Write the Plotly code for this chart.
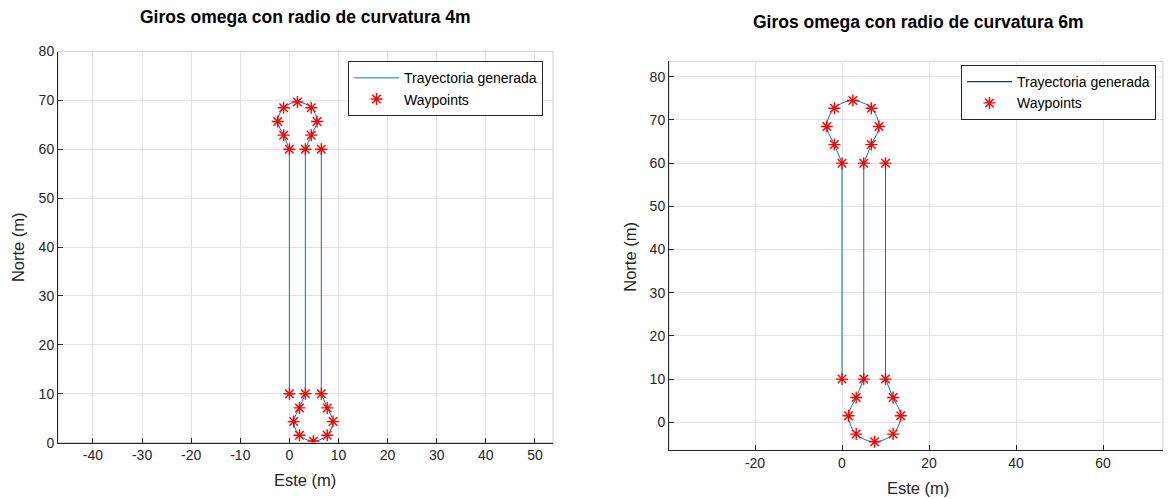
import plotly.graph_objects as go

W, H = 1168, 499

# ---- data ----
# Left: omega turns, radius 4 m
wp4_x = [0, 0, -1.17, -2.38, -1.17, 1.63, 4.45, 5.63, 4.45, 3.25,
         3.25, 2.05, 0.88, 2.05, 4.88, 7.70, 8.88, 7.70, 6.5, 6.5]
wp4_y = [10, 60, 62.9, 65.7, 68.5, 69.7, 68.5, 65.7, 62.9, 60,
         10, 7.1, 4.3, 1.5, 0.3, 1.5, 4.3, 7.1, 10, 60]
# Right: omega turns, radius 6 m
wp6_x = [0, 0, -1.74, -3.5, -1.74, 2.5, 6.74, 8.5, 6.74, 5,
         5, 3.26, 1.5, 3.26, 7.5, 11.74, 13.5, 11.74, 10, 10]
wp6_y = [10, 60, 64.3, 68.5, 72.7, 74.5, 72.7, 68.5, 64.3, 60,
         10, 5.74, 1.5, -2.74, -4.5, -2.74, 1.5, 5.74, 10, 60]

# index ranges of the path: straight legs and turning loops
straight_legs = [(0, 2), (9, 11), (18, 20)]
turn_loops = [(1, 10), (10, 19)]

title4 = "Giros omega con radio de curvatura 4m"
title6 = "Giros omega con radio de curvatura 6m"
xlab = "Este (m)"
ylab = "Norte (m)"
name_traj = "Trayectoria generada"
name_wp = "Waypoints"

x4_ticks = [-40, -30, -20, -10, 0, 10, 20, 30, 40, 50]
y4_ticks = [0, 10, 20, 30, 40, 50, 60, 70, 80]
x6_ticks = [-20, 0, 20, 40, 60]
y6_ticks = [0, 10, 20, 30, 40, 50, 60, 70, 80]

# ---- styling ----
PATH_COLOR = "#0072BD"
FONT = "Liberation Sans, Arial, sans-serif"
AX_COLOR = "#262626"
GRID = "#E3E3E3"


def px(xp):
    return xp / W


def py(yp):
    return 1 - yp / H


fig = go.Figure()


def add_path(xs, ys, xa, ya):
    for a, b in straight_legs:
        fig.add_trace(go.Scatter(x=xs[a:b], y=ys[a:b], mode="lines",
                                 line=dict(color=PATH_COLOR, width=1),
                                 showlegend=False, xaxis=xa, yaxis=ya, hoverinfo="skip"))
    for a, b in turn_loops:
        fig.add_trace(go.Scatter(x=xs[a:b], y=ys[a:b], mode="lines",
                                 line=dict(color=PATH_COLOR, width=1, shape="spline"),
                                 showlegend=False, xaxis=xa, yaxis=ya, hoverinfo="skip"))


marker_style = dict(symbol="asterisk-open", size=10, color="#FF0000",
                    line=dict(color="#FF0000", width=1.4))

# left subplot
add_path(wp4_x, wp4_y, "x", "y")
fig.add_trace(go.Scatter(x=[None], y=[None], mode="lines", line=dict(color="#5AA6DA", width=1.5),
                         name=name_traj, legend="legend", xaxis="x", yaxis="y"))
fig.add_trace(go.Scatter(x=wp4_x, y=wp4_y, mode="markers", name=name_wp, legend="legend",
                         marker=marker_style, xaxis="x", yaxis="y"))

# right subplot
add_path(wp6_x, wp6_y, "x2", "y2")
fig.add_trace(go.Scatter(x=[None], y=[None], mode="lines", line=dict(color="#123E63", width=1.2),
                         name=name_traj, legend="legend2", xaxis="x2", yaxis="y2"))
fig.add_trace(go.Scatter(x=wp6_x, y=wp6_y, mode="markers", name=name_wp, legend="legend2",
                         marker=marker_style, xaxis="x2", yaxis="y2"))

axis_common = dict(showgrid=True, gridcolor=GRID, gridwidth=1, zeroline=False,
                   showline=True, linecolor=AX_COLOR, linewidth=1, mirror=False,
                   ticks="inside", ticklen=5, tickcolor=AX_COLOR, tickwidth=1,
                   tickfont=dict(family=FONT, size=14, color=AX_COLOR),
                   tickmode="array")


def labels(vals):
    return [str(v) for v in vals]


legend_common = dict(xanchor="right", yanchor="top",
                     bgcolor="white", bordercolor="#262626", borderwidth=1,
                     font=dict(family=FONT, size=14, color="#000000"),
                     tracegroupgap=0, itemwidth=45)

fig.update_layout(
    width=W, height=H,
    margin=dict(l=0, r=0, t=0, b=0),
    paper_bgcolor="white", plot_bgcolor="white",
    xaxis=dict(domain=[px(58), px(553)], range=[-47.12, 53.68], tickvals=x4_ticks,
               ticktext=labels(x4_ticks), anchor="y", **axis_common),
    yaxis=dict(domain=[py(449), py(45)], range=[0, 80], tickvals=y4_ticks,
               ticktext=labels(y4_ticks), anchor="x", **axis_common),
    xaxis2=dict(domain=[px(669), px(1163)], range=[-39.77, 73.79], tickvals=x6_ticks,
                ticktext=labels(x6_ticks), anchor="y2", **axis_common),
    yaxis2=dict(domain=[py(457), py(55)], range=[-6.5, 83.6], tickvals=y6_ticks,
                ticktext=labels(y6_ticks), anchor="x2", **axis_common),
    legend=dict(x=px(543), y=py(55), **legend_common),
    legend2=dict(x=px(1156), y=py(59), **legend_common),
    showlegend=True,
)

# light frame on top/right (MATLAB box)
for xr, yr in (("x domain", "y domain"), ("x2 domain", "y2 domain")):
    fig.add_shape(type="rect", xref=xr, yref=yr, x0=0, x1=1, y0=0, y1=1,
                  line=dict(color="#D0D0D0", width=1), layer="below")

texts = [
    (title4, 305, 9, 17.5, True, 0),
    (title6, 918, 14, 17.5, True, 0),
    (xlab, 305, 488, 16.5, False, 0),
    (xlab, 918, 496, 16.5, False, 0),
    (ylab, 18, 247, 16.5, False, -90),
    (ylab, 630, 257, 16.5, False, -90),
]
for t, xp, yp, fs, bold, ang in texts:
    fig.add_annotation(text=("<b>%s</b>" % t) if bold else t, xref="paper", yref="paper",
                       x=px(xp), y=py(yp), xanchor="center", yanchor="middle",
                       showarrow=False, textangle=ang,
                       font=dict(family=FONT, size=fs, color="#000000" if bold else AX_COLOR))

fig.write_html("out.html")
